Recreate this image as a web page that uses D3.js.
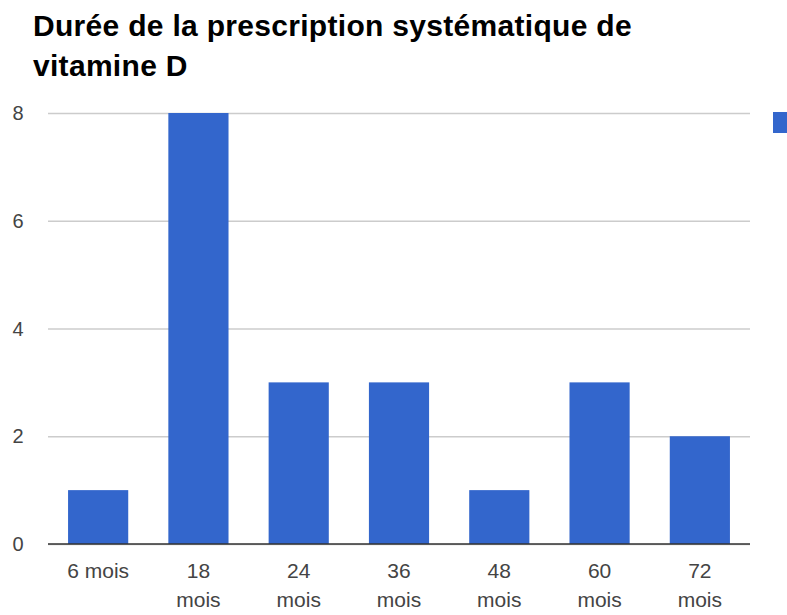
<!DOCTYPE html>
<html>
<head>
<meta charset="utf-8">
<script src="https://cdn.jsdelivr.net/npm/d3@7"></script>
<style>
body { margin: 0; background: #fff; }
svg text { font-family: "Liberation Sans", Arial, sans-serif; }
</style>
</head>
<body>
<div id="chart"></div>
<script>
// data
var categories = ["6 mois", "18 mois", "24 mois", "36 mois", "48 mois", "60 mois", "72 mois"];
var values = [1, 8, 3, 3, 1, 3, 2];
var yTicks = [0, 2, 4, 6, 8];
var titleLines = ["Durée de la prescription systématique de", "vitamine D"];

var svgWidth = 787;
var svgHeight = 615;

var margin = { top: 113, right: 37, bottom: 71, left: 48 };
var width = svgWidth - margin.left - margin.right;
var height = svgHeight - margin.top - margin.bottom;

var svg = d3.select("#chart").append("svg")
    .attr("width", svgWidth)
    .attr("height", svgHeight);

// title
svg.append("g").selectAll("text")
    .data(titleLines)
    .enter()
    .append("text")
    .attr("x", 33)
    .attr("y", (d, i) => 36 + i * 40)
    .attr("font-size", "30px")
    .attr("font-weight", "bold")
    .attr("letter-spacing", "0.3px")
    .attr("fill", "#000")
    .text(d => d);

var chartGroup = svg.append("g")
    .attr("transform", `translate(${margin.left}, ${margin.top})`);

var x = d3.scaleBand()
    .domain(categories)
    .range([0, width])
    .paddingInner(0.4)
    .paddingOuter(0.2);

var y = d3.scaleLinear()
    .domain([0, 8])
    .range([height, 0]);

// gridlines
chartGroup.append("g")
    .call(d3.axisLeft(y).tickValues(yTicks).tickSize(-width).tickFormat(""))
    .call(g => g.select(".domain").remove())
    .call(g => g.selectAll("line").attr("stroke", "#cccccc").attr("stroke-width", 1.5));

// y labels
chartGroup.append("g")
    .selectAll("text")
    .data(yTicks)
    .enter()
    .append("text")
    .attr("x", -30)
    .attr("y", d => y(d) + 7)
    .attr("text-anchor", "middle")
    .attr("font-size", "20px")
    .attr("fill", "#444")
    .text(d => d);

// bars
chartGroup.selectAll("rect")
    .data(values)
    .enter()
    .append("rect")
    .attr("x", (d, i) => x(categories[i]))
    .attr("y", d => y(d))
    .attr("width", x.bandwidth())
    .attr("height", d => height - y(d))
    .attr("fill", "#3366cc");

// baseline
chartGroup.append("line")
    .attr("x1", 0)
    .attr("x2", width)
    .attr("y1", y(0))
    .attr("y2", y(0))
    .attr("stroke", "#333")
    .attr("stroke-width", 1.5);

// x labels, wrap "NN mois" on two lines
var xLabels = chartGroup.append("g").selectAll("text")
    .data(categories)
    .enter()
    .append("text")
    .attr("text-anchor", "middle")
    .attr("font-size", "21px")
    .attr("fill", "#444")
    .attr("transform", d => `translate(${x(d) + x.bandwidth() / 2}, ${height + 34})`);

xLabels.each(function (d) {
    var t = d3.select(this);
    var parts = d.length > 6 ? d.split(" ") : [d];
    parts.forEach(function (p, i) {
        t.append("tspan")
            .attr("x", 0)
            .attr("dy", i === 0 ? 0 : 29)
            .text(p);
    });
});

// legend marker (cut off at right edge)
svg.append("rect")
    .attr("x", 773)
    .attr("y", 112)
    .attr("width", 20)
    .attr("height", 21)
    .attr("fill", "#3366cc");
</script>
</body>
</html>
